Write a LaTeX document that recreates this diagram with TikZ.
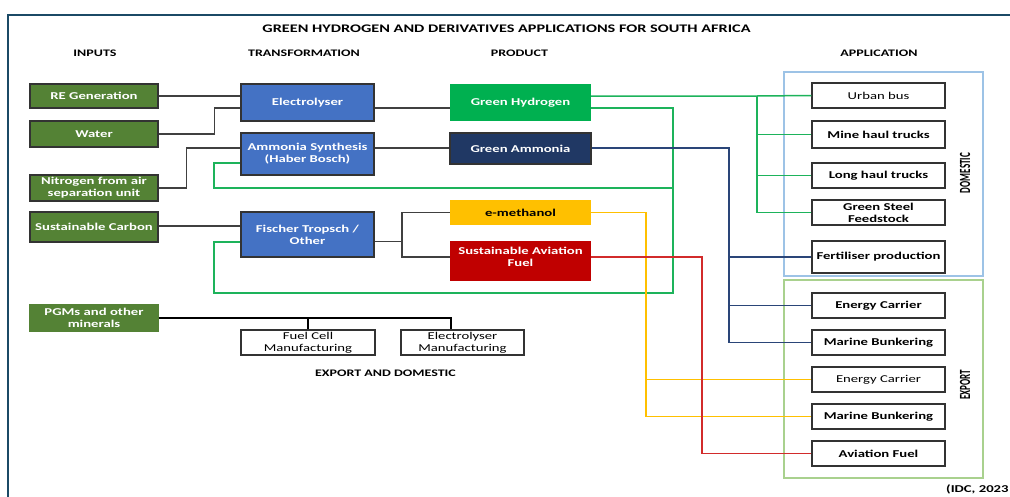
\documentclass[tikz,border=0pt]{standalone}
\usepackage{fontspec}
\setmainfont{Carlito}
\newfontfamily\bxfont[FakeStretch=1.4]{Carlito}
\newfontfamily\rotfont[FakeStretch=0.585]{Carlito}
\usetikzlibrary{calc}
\definecolor{inG}{HTML}{548235}
\definecolor{trB}{HTML}{4472C4}
\definecolor{hyG}{HTML}{00B050}
\definecolor{amN}{HTML}{203864}
\definecolor{meY}{HTML}{FFC000}
\definecolor{saR}{HTML}{C00000}
\definecolor{frameC}{HTML}{1B4A66}
\definecolor{domC}{HTML}{9DC3E6}
\definecolor{expC}{HTML}{A9D18E}
\definecolor{edgeC}{HTML}{333333}
\definecolor{lnG}{HTML}{1DB35B}
\definecolor{lnN}{HTML}{2A4578}
\definecolor{lnY}{HTML}{FFC000}
\definecolor{lnR}{HTML}{D22B2B}
\definecolor{lnK}{HTML}{404040}
\begin{document}
\begin{tikzpicture}[x=1pt,y=-1pt,
  every node/.style={inner sep=0pt, align=center, font=\bxfont\bfseries\fontsize{10.5}{12}\selectfont},
  regtxt/.style={font=\bxfont\fontsize{10.5}{12}\selectfont},
  hdr/.style={font=\bxfont\bfseries\fontsize{10}{12}\selectfont},
  ttl/.style={font=\bxfont\bfseries\fontsize{11.6}{13}\selectfont},
  rotlbl/.style={font=\rotfont\bfseries\fontsize{15.5}{16}\selectfont, rotate=90},
  inbox/.style={draw=edgeC, line width=1.3pt, fill=inG, text=white, minimum width=128pt},
  trbox/.style={draw=edgeC, line width=1.3pt, fill=trB, text=white, minimum width=133pt},
  prbox/.style={minimum width=141pt},
  apbox/.style={draw=edgeC, line width=1.3pt, fill=white, minimum width=133pt, minimum height=25pt},
  mfbox/.style={draw=edgeC, line width=1.1pt, fill=white, minimum height=25pt, regtxt},
  kline/.style={draw=lnK, line width=1.4pt},
  gline/.style={draw=lnG, line width=1.5pt},
  nline/.style={draw=lnN, line width=1.5pt},
  yline/.style={draw=lnY, line width=1.5pt},
  rline/.style={draw=lnR, line width=1.5pt},
  region/.style={line width=1.4pt}
]
\useasboundingbox (0,0) rectangle (1010,496);
\fill[white] (0,0) rectangle (1010,496);

% frame
\draw[frameC, line width=2.5pt] (1012,15) -- (8,15) -- (8,500);

% titles
\node[ttl] (title) at (506.5,29) {GREEN HYDROGEN AND DERIVATIVES APPLICATIONS FOR SOUTH AFRICA};
\node[hdr] (hin) at (95,53.5) {INPUTS};
\node[hdr] (htr) at (304,53.5) {TRANSFORMATION};
\node[hdr] (hpr) at (519.5,53.5) {PRODUCT};
\node[hdr] (hap) at (879,53.5) {APPLICATION};
\node[hdr] (hexd) at (385.5,373) {EXPORT AND DOMESTIC};

% regions
\draw[region, domC] (784,72) rectangle (983,276);
\draw[region, expC] (784,280) rectangle (983,478);
\node[rotlbl] (dom) at (965,173) {DOMESTIC};
\node[rotlbl] (exp) at (965,385) {EXPORT};

% inputs
\node[inbox, minimum height=24pt] (re) at (94,96) {RE Generation};
\node[inbox, minimum height=26pt] (water) at (94,134) {Water};
\node[inbox, minimum height=26pt] (nit) at (94,188) {Nitrogen from air\\separation unit};
\node[inbox, minimum height=30pt] (sc) at (94,227) {Sustainable Carbon};
\node[inbox, draw=inG, minimum height=26pt] (pgm) at (94,318) {PGMs and other\\minerals};

% transformation
\node[trbox, minimum height=37pt] (elec) at (307.5,102.5) {Electrolyser};
\node[trbox, minimum height=42pt] (amm) at (307.5,154) {Ammonia Synthesis\\(Haber Bosch)};
\node[trbox, minimum height=45pt] (ft) at (307.5,234.5) {Fischer Tropsch /\\Other};

% products
\node[prbox, fill=hyG, text=white, minimum height=37pt] (gh) at (520.5,102.5) {Green Hydrogen};
\node[prbox, fill=amN, draw=edgeC, line width=1.3pt, text=white, minimum height=31pt] (ga) at (520.5,148.5) {Green Ammonia};
\node[prbox, fill=meY, text=black, minimum height=25pt] (em) at (520.5,212.5) {e-methanol};
\node[prbox, fill=saR, minimum height=40pt] (saf) at (520.5,261) {};
\node[text=white] (saftxt) at (520.5,257) {Sustainable Aviation\\Fuel};

% manufacturing
\node[mfbox, minimum width=134pt] (fcm) at (308,342.5) {Fuel Cell\\Manufacturing};
\node[mfbox, minimum width=123pt] (elm) at (462.5,342.5) {Electrolyser\\Manufacturing};

% applications
\node[apbox, regtxt] (ub) at (878.5,95.5) {Urban bus};
\node[apbox, minimum height=27pt] (mh) at (878.5,134.5) {Mine haul trucks};
\node[apbox] (lh) at (878.5,175.5) {Long haul trucks};
\node[apbox] (gs) at (878.5,212.5) {Green Steel\\Feedstock};
\node[apbox, minimum height=32pt] (fp) at (878.5,257) {Fertiliser production};
\node[apbox] (ec1) at (878.5,305.5) {Energy Carrier};
\node[apbox] (mb1) at (878.5,342.5) {Marine Bunkering};
\node[apbox, regtxt] (ec2) at (878.5,379.5) {Energy Carrier};
\node[apbox] (mb2) at (878.5,416.5) {Marine Bunkering};
\node[apbox] (af) at (878.5,453.5) {Aviation Fuel};

\node[anchor=west] (src) at (946,489.5) {(IDC, 2023};

% coordinates for bends
\coordinate (gx) at (757,96);
\coordinate (loopR) at (673,293);
\coordinate (loopL) at (214,293);
\coordinate (amR) at (673,188);
\coordinate (amL) at (214,188);
\coordinate (nx) at (729,342.5);
\coordinate (yx) at (646,416.5);
\coordinate (rx) at (702,453.5);
\coordinate (fb) at (402,241.5);
\coordinate (pb) at (451,318);

% grey connectors
\draw[kline] (re.east) -- (re.east -| elec.west);
\draw[kline] (water.east) -- ++(56,0) |- ([yshift=-5.5pt]elec.west);
\draw[kline] (nit.east) -- ++(28,0) |- ([yshift=6pt]amm.west);
\draw[kline] ([yshift=1pt]sc.east) -- ([yshift=1pt]sc.east -| ft.west);
\draw[kline] ([yshift=-5.5pt]elec.east) -- ([yshift=-5.5pt]gh.west);
\draw[kline] ([yshift=6pt]amm.east) -- ([yshift=6pt]amm.east -| ga.west);
\draw[kline] ([yshift=-7pt]ft.east) -- (fb);
\draw[kline] (em.west) -| (fb) |- ([yshift=4pt]saf.west);
\draw[draw=black, line width=1.5pt] (pgm.east) -- (pb) -- (pb |- elm.north);
\draw[draw=black, line width=1.5pt] (pgm.east -| fcm.north) -- (fcm.north);

% green hydrogen
\draw[gline] ([yshift=6.5pt]gh.east) -- (gx) -- (ub.west);
\draw[gline] (gx) |- (gs.west);
\draw[gline] (gx |- mh.west) -- (mh.west);
\draw[gline] (gx |- lh.west) -- (lh.west);
\draw[gline] ([yshift=-5.5pt]gh.east) -| (loopR) -- (loopL) |- ([yshift=-7.5pt]ft.west);
\draw[gline] (amR) -- (amL) |- ([yshift=-9pt]amm.west);

% green ammonia
\draw[nline] ([yshift=0.5pt]ga.east) -| (nx) -- (mb1.west);
\draw[nline] (nx |- fp.west) -- (fp.west);
\draw[nline] (nx |- ec1.west) -- (ec1.west);

% e-methanol
\draw[yline] (em.east) -| (yx) -- (mb2.west);
\draw[yline] (yx |- ec2.west) -- (ec2.west);

% SAF
\draw[rline] ([yshift=4pt]saf.east) -| (rx) -- (af.west);
\end{tikzpicture}
\end{document}
